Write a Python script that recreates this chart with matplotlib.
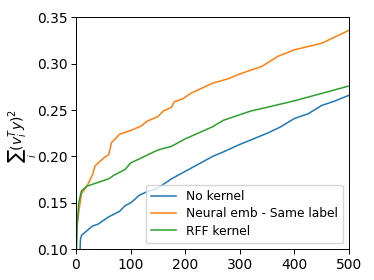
import matplotlib
matplotlib.use("Agg")
import matplotlib.pyplot as plt

no_kernel_x = [7, 8, 10, 20, 30, 40, 50, 60, 70, 80, 90, 100, 110, 115, 130, 150, 175, 200, 225, 250,
               270, 300, 325, 350, 375, 400, 425, 450, 475, 500]
no_kernel_y = [0.09, 0.110, 0.115, 0.120, 0.125, 0.127, 0.131, 0.135, 0.138, 0.141, 0.147, 0.150, 0.155,
               0.158, 0.162, 0.166, 0.176, 0.184, 0.192, 0.200, 0.205, 0.213, 0.219, 0.225, 0.232,
               0.241, 0.246, 0.255, 0.260, 0.266]

neural_x = [0, 2, 5, 10, 20, 30, 35, 50, 60, 65, 80, 100, 120, 130, 150, 160, 175, 180, 195, 210,
            250, 280, 300, 340, 370, 400, 450, 500]
neural_y = [0.10, 0.125, 0.140, 0.160, 0.168, 0.180, 0.190, 0.198, 0.202, 0.215, 0.224, 0.228, 0.233,
            0.238, 0.243, 0.249, 0.253, 0.259, 0.262, 0.268, 0.279, 0.284, 0.289, 0.297, 0.308,
            0.315, 0.322, 0.336]

rff_x = [1, 2, 5, 10, 20, 40, 60, 70, 90, 100, 125, 150, 175, 200, 250, 270, 300, 320, 350, 400,
         450, 500]
rff_y = [0.10, 0.125, 0.150, 0.163, 0.168, 0.172, 0.176, 0.180, 0.186, 0.193, 0.200, 0.207, 0.211,
         0.219, 0.232, 0.239, 0.245, 0.249, 0.253, 0.260, 0.268, 0.276]

labels = ["No kernel", "Neural emb - Same label", "RFF kernel"]
colors = ["#1f77b4", "#ff7f0e", "#2ca02c"]

fig = plt.figure(figsize=(3.74, 2.8), dpi=100)
ax = fig.add_axes([76 / 374, 1 - 249.3 / 280, (349 - 76) / 374, (249.3 - 17.3) / 280])

ax.plot(no_kernel_x, no_kernel_y, color=colors[0], lw=1.1, label=labels[0])
ax.plot(neural_x, neural_y, color=colors[1], lw=1.1, label=labels[1])
ax.plot(rff_x, rff_y, color=colors[2], lw=1.1, label=labels[2])

ax.set_xlim(0, 500)
ax.set_ylim(0.10, 0.35)
ax.set_xticks([0, 100, 200, 300, 400, 500])
ax.set_yticks([0.10, 0.15, 0.20, 0.25, 0.30, 0.35])
ax.set_yticklabels(["0.10", "0.15", "0.20", "0.25", "0.30", "0.35"])
ax.tick_params(labelsize=10, length=3.5, width=0.7, pad=2.5)
for s in ax.spines.values():
    s.set_linewidth(0.7)
ax.set_ylabel(r"$\sum_i (v_i^T y)^2$", fontsize=10)
ax.yaxis.set_label_coords(-0.135, 0.49)

ax.legend(loc="lower right", fontsize=8.8, frameon=True, handlelength=2.0,
          borderpad=0.45, labelspacing=0.35, handletextpad=0.8)

fig.savefig("out.png", dpi=100)
